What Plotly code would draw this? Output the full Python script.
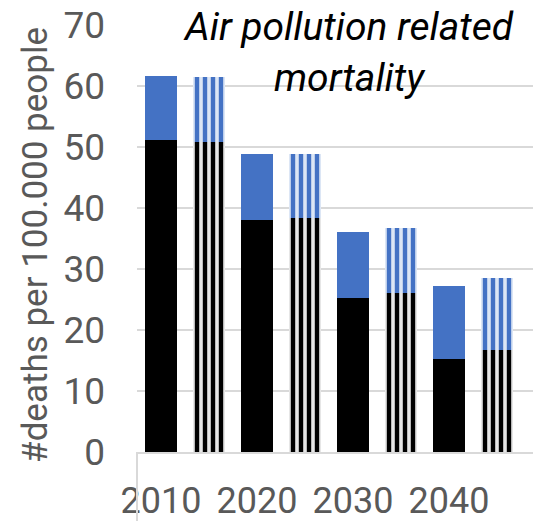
import plotly.graph_objects as go

years = [2010, 2020, 2030, 2040]
tick_labels = ["2010", "2020", "2030", "2040"]
# scenario A (solid bars)
a_black = [51.1, 38.1, 25.3, 15.2]
a_blue = [10.5, 10.7, 10.7, 12.0]
# scenario B (striped bars)
b_black = [50.9, 38.4, 26.0, 16.8]
b_blue = [10.6, 10.4, 10.7, 11.8]
offset_years = 5

FONT = "Roboto, sans-serif"
GREY = "#595959"
BLUE = "#4472C4"

xa = years
xb = [y + offset_years for y in years]
w = 10 / 3

fig = go.Figure()
fig.add_trace(go.Bar(x=xa, y=a_black, width=w, marker=dict(color="black", line=dict(width=0))))
fig.add_trace(go.Bar(x=xa, y=a_blue, width=w, marker=dict(color=BLUE, line=dict(width=0))))
fig.add_trace(go.Bar(x=xb, y=b_black, width=w,
                     marker=dict(color="black", line=dict(width=0),
                                 pattern=dict(shape="|", fgcolor="black", bgcolor="#e6e6e6",
                                              size=8, solidity=0.55, fillmode="replace"))))
fig.add_trace(go.Bar(x=xb, y=b_blue, width=w,
                     marker=dict(color=BLUE, line=dict(width=0),
                                 pattern=dict(shape="|", fgcolor=BLUE, bgcolor="#dce6f5",
                                              size=8, solidity=0.55, fillmode="replace"))))

fig.update_layout(
    barmode="stack",
    width=533, height=521,
    margin=dict(l=137, r=0, t=25, b=69, autoexpand=False),
    paper_bgcolor="white", plot_bgcolor="white",
    showlegend=False,
    font=dict(family=FONT, color=GREY, size=36),
    xaxis=dict(range=[2007.5, 2048.75], tickvals=years, ticktext=tick_labels, automargin=False,
               showgrid=False, zeroline=False, showline=True, linecolor="#d9d9d9", linewidth=2,
               ticks="", ticklabelstandoff=16, tickfont=dict(size=36, color=GREY)),
    yaxis=dict(range=[0, 70], dtick=10, showgrid=True, gridcolor="#d9d9d9", gridwidth=2,
               automargin=False, zeroline=False, showline=False, ticks="", ticklabelstandoff=31,
               tickfont=dict(size=37, color=GREY)),
)

fig.add_shape(type="line", xref="paper", yref="paper", x0=0, x1=0, y0=0, y1=-0.2,
              line=dict(color="#d9d9d9", width=2))

fig.add_annotation(text="#deaths per 100.000 people", xref="paper", yref="paper",
                   x=-0.255, y=0.485, xanchor="center", yanchor="middle", textangle=-90,
                   showarrow=False, font=dict(size=35, color=GREY, family=FONT))
fig.add_annotation(text="Air pollution related<br>mortality", xref="paper", yref="paper",
                   x=0.533, y=1.055, xanchor="center", yanchor="top", showarrow=False,
                   font=dict(size=39, color="black", family=FONT, style="italic"))

fig.write_html(
    "out.html",
    config={"displayModeBar": False},
    post_script="document.body.style.margin='0px';document.documentElement.style.overflow='hidden';",
)
